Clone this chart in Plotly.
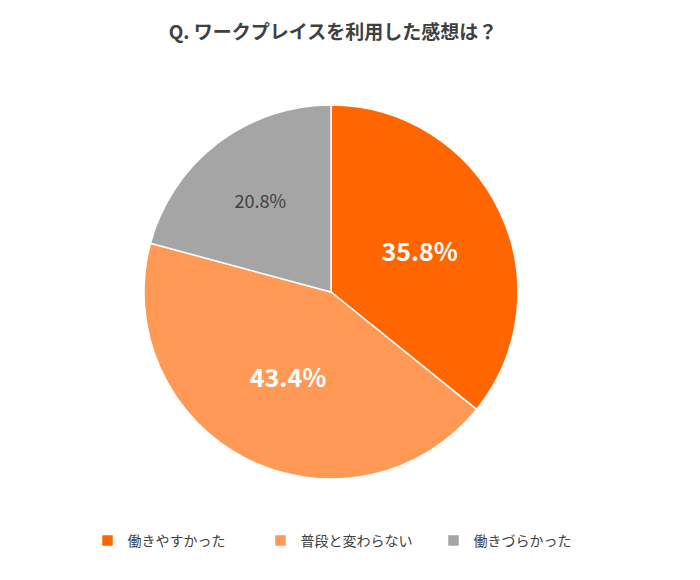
import plotly.graph_objects as go

# 回答データ
labels = ['働きやすかった', '普段と変わらない', '働きづらかった']
values = [35.8, 43.4, 20.8]
colors = ['#FF6600', '#FF9955', '#A5A5A5']
text_colors = ['#FFFFFF', '#FFFFFF', '#404040']
text_sizes = [25, 25, 18]
text_weights = ['bold', 'bold', 'normal']

W, H = 700, 580
OFF = 8  # body margin of the html page
cx, cy, r = 331 - OFF, 292 - OFF, 187

fig = go.Figure(go.Pie(
    labels=labels,
    values=values,
    sort=False,
    direction='clockwise',
    rotation=0,
    marker=dict(colors=colors, line=dict(color='white', width=1.5)),
    texttemplate='%{value:.1f}%',
    textposition='inside',
    insidetextorientation='horizontal',
    textfont=dict(color=text_colors, size=text_sizes, weight=text_weights,
                  family='Noto Sans CJK JP'),
    domain=dict(x=[(cx - r) / W, (cx + r) / W],
                y=[(H - cy - r) / H, (H - cy + r) / H]),
    hoverinfo='label+percent',
))

fig.update_layout(
    width=W, height=H,
    margin=dict(l=0, r=0, t=0, b=0),
    paper_bgcolor='white',
    font=dict(family='Noto Sans CJK JP', color='#404040'),
    title=dict(text='<b>Q. ワークプレイスを利用した感想は？</b>',
               x=(333 - OFF) / W, xanchor='center',
               y=1 - (32 - OFF) / H, yanchor='middle',
               font=dict(size=19, color='#404040')),
    legend=dict(orientation='h', x=(347 - OFF) / W, xanchor='center',
                y=(H - 541 + OFF) / H, yanchor='middle',
                font=dict(size=14, color='#404040'),
                entrywidth=128, itemwidth=30),
    uniformtext=dict(mode=False),
)

fig.write_html('out.html')
